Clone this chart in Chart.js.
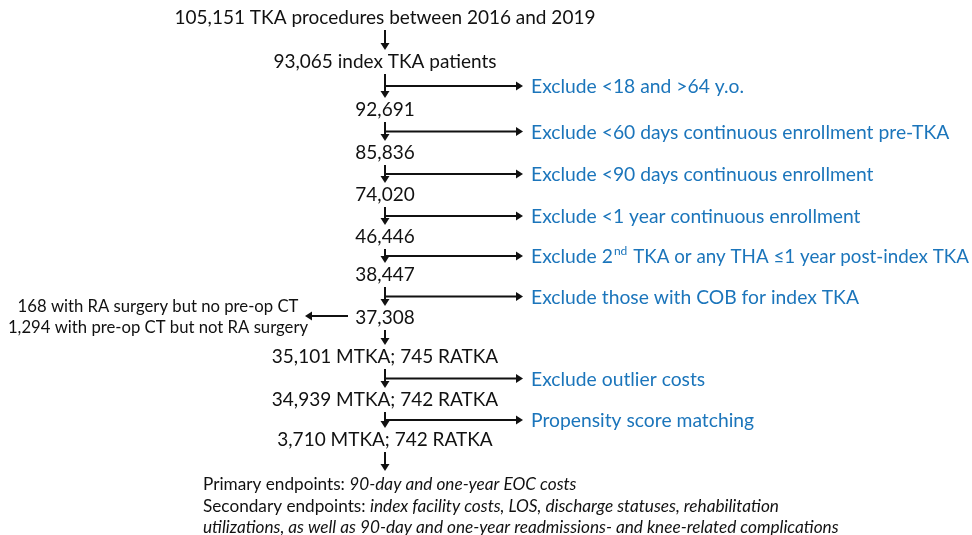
<!DOCTYPE html>
<html>
<head>
<meta charset="utf-8">
<script src="https://cdn.jsdelivr.net/npm/chart.js@4/dist/chart.umd.min.js"></script>
<style>
  html, body { margin: 0; padding: 0; background: #fff; }
  #wrap { width: 972px; height: 535px; }
</style>
</head>
<body>
<div id="wrap"><canvas id="flow"></canvas></div>
<script>
// flow steps (counts), top to bottom
const steps = [
    '105,151 TKA procedures between 2016 and 2019',
    '93,065 index TKA patients',
    '92,691',
    '85,836',
    '74,020',
    '46,446',
    '38,447',
    '37,308',
    '35,101 MTKA; 745 RATKA',
    '34,939 MTKA; 742 RATKA',
    '3,710 MTKA; 742 RATKA'
];
// exclusion after step i (null = plain arrow)
const exclusions = [
    null,
    'Exclude <18 and >64 y.o.',
    'Exclude <60 days continuous enrollment pre-TKA',
    'Exclude <90 days continuous enrollment',
    'Exclude <1 year continuous enrollment',
    ['Exclude 2', 'nd', ' TKA or any THA \u22641 year post-index TKA'],
    'Exclude those with COB for index TKA',
    null,
    'Exclude outlier costs',
    'Propensity score matching'
];
const sideNote = ['168 with RA surgery but no pre-op CT', '1,294 with pre-op CT but not RA surgery'];
const endpoints = [
    ['Primary endpoints: ', '90-day and one-year EOC costs'],
    ['Secondary endpoints: ', 'index facility costs, LOS, discharge statuses, rehabilitation'],
    ['', 'utilizations, as well as 90-day and one-year readmissions- and knee-related complications']
];

// layout (in chart units = pixels of the 972x535 frame)
const stepY = [18, 62, 110, 153, 195, 237, 275, 318, 357, 400, 440];
const colX = 385;
const BLUE = '#1b75bb';
const FONT = 'Lato, "Noto Sans", sans-serif';

function arrowHead(ctx, x, y, dir) {
    const s = 7, w = 4.5;
    ctx.beginPath();
    if (dir === 'down') { ctx.moveTo(x, y); ctx.lineTo(x - w, y - s); ctx.lineTo(x + w, y - s); }
    if (dir === 'right') { ctx.moveTo(x, y); ctx.lineTo(x - s, y - w); ctx.lineTo(x - s, y + w); }
    if (dir === 'left') { ctx.moveTo(x, y); ctx.lineTo(x + s, y - w); ctx.lineTo(x + s, y + w); }
    ctx.closePath();
    ctx.fill();
}

const flowPlugin = {
    id: 'flowPlugin',
    afterDraw(chart) {
        const {ctx, scales: {x, y}} = chart;
        const px = v => x.getPixelForValue(v);
        const py = v => y.getPixelForValue(v);
        ctx.save();
        ctx.fillStyle = '#111';
        ctx.strokeStyle = '#111';
        ctx.lineWidth = 2;
        ctx.textBaseline = 'middle';

        // step labels
        ctx.font = '19px ' + FONT;
        ctx.textAlign = 'center';
        steps.forEach((s, i) => ctx.fillText(s, px(colX), py(stepY[i])));

        // arrows between steps
        for (let i = 0; i < steps.length - 1; i++) {
            const top = stepY[i] + 12, bot = stepY[i + 1] - 12;
            ctx.beginPath();
            ctx.moveTo(px(colX), py(top));
            ctx.lineTo(px(colX), py(bot) - 5);
            ctx.stroke();
            arrowHead(ctx, px(colX), py(bot), 'down');

            const ex = exclusions[i];
            if (ex) {
                const by = (top + bot) / 2;
                ctx.beginPath();
                ctx.moveTo(px(colX), py(by));
                ctx.lineTo(px(523) - 5, py(by));
                ctx.stroke();
                arrowHead(ctx, px(523), py(by), 'right');

                ctx.fillStyle = BLUE;
                ctx.textAlign = 'left';
                ctx.font = '19.3px ' + FONT;
                if (Array.isArray(ex)) {
                    let cx = px(531);
                    ctx.fillText(ex[0], cx, py(by + 1));
                    cx += ctx.measureText(ex[0]).width;
                    ctx.font = '12px ' + FONT;
                    ctx.fillText(ex[1], cx + 1, py(by - 5));
                    cx += ctx.measureText(ex[1]).width + 2;
                    ctx.font = '19.3px ' + FONT;
                    ctx.fillText(ex[2], cx, py(by + 1), px(969) - cx);
                } else {
                    ctx.fillText(ex, px(531), py(by + 1));
                }
                ctx.fillStyle = '#111';
                ctx.textAlign = 'center';
            }
        }

        // side branch from 37,308
        ctx.beginPath();
        ctx.moveTo(px(348), py(316));
        ctx.lineTo(px(305) + 5, py(316));
        ctx.stroke();
        arrowHead(ctx, px(305), py(316), 'left');
        ctx.font = '16.7px ' + FONT;
        ctx.textAlign = 'center';
        ctx.fillText(sideNote[0], px(158), py(307));
        ctx.fillText(sideNote[1], px(158), py(328));

        // final arrow to endpoints
        ctx.beginPath();
        ctx.moveTo(px(colX), py(452));
        ctx.lineTo(px(colX), py(471) - 5);
        ctx.stroke();
        arrowHead(ctx, px(colX), py(471), 'down');

        // endpoints text
        ctx.textAlign = 'left';
        const ey = [484, 506, 527];
        endpoints.forEach((ln, i) => {
            let cx = px(203);
            ctx.font = '17.2px ' + FONT;
            ctx.fillText(ln[0], cx, py(ey[i]));
            cx += ctx.measureText(ln[0]).width;
            ctx.font = 'italic 17.2px ' + FONT;
            ctx.fillText(ln[1], cx, py(ey[i]));
        });
        ctx.restore();
    }
};

new Chart(document.getElementById('flow'), {
    type: 'scatter',
    data: {
        datasets: [{
            data: steps.map((s, i) => ({x: colX, y: stepY[i]})),
            pointRadius: 0
        }]
    },
    options: {
        responsive: true,
        maintainAspectRatio: false,
        animation: false,
        layout: {padding: 0},
        plugins: {legend: {display: false}, tooltip: {enabled: false}},
        scales: {
            x: {type: 'linear', min: 0, max: 972, display: false},
            y: {type: 'linear', min: 0, max: 535, reverse: true, display: false}
        }
    },
    plugins: [flowPlugin]
});
</script>
</body>
</html>
